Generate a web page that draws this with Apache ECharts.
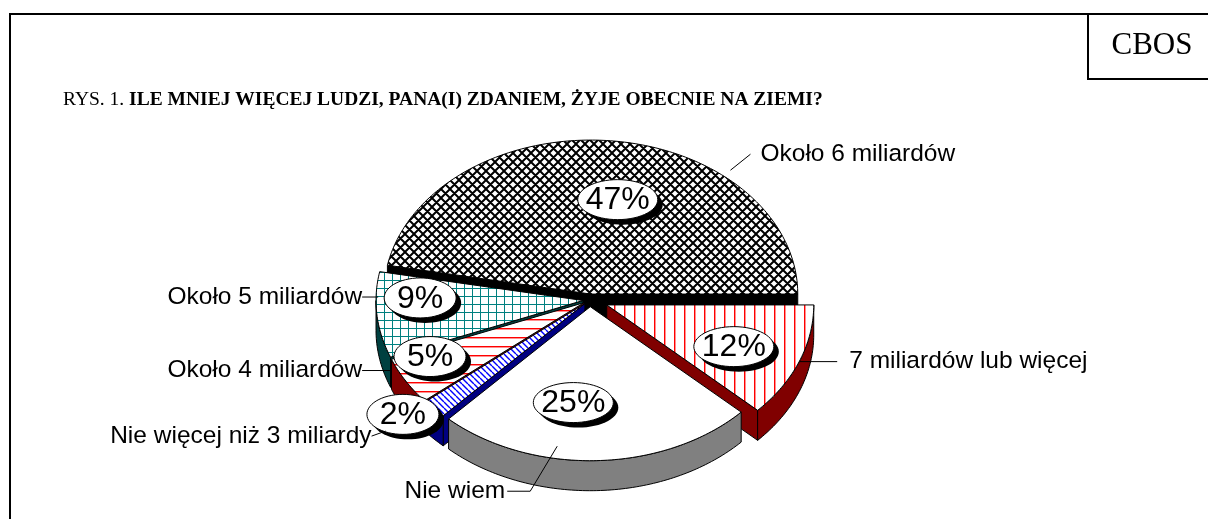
<!DOCTYPE html>
<html>
<head>
<meta charset="utf-8">
<script src="https://cdn.jsdelivr.net/npm/echarts@6/dist/echarts.min.js"></script>
<style>
  html, body { margin: 0; padding: 0; background: #fff; }
  #chart { width: 1208px; height: 519px; }
</style>
</head>
<body>
<div id="chart"></div>
<script>
// data, in clockwise order of the slices
const categories = ['Nie więcej niż 3 miliardy', 'Około 4 miliardów', 'Około 5 miliardów', 'Około 6 miliardów', '7 miliardów lub więcej', 'Nie wiem'];
const percents = [2, 5, 9, 47, 12, 25];

// pie geometry (pseudo 3d, tilted)
const cx = 590, cy = 300, rx = 207, ry = 154, depth = 30;
const firstSliceAngle = 133.2; // clockwise from 3 o'clock

// styles
const sideColors = ['#000080', '#800000', '#004040', '#000000', '#800000', '#808080'];
const explode = [7, 7, 7, 8, 18, 9];
// where the % bubble sits: [angle, radius fraction]
const valueLabelAt = [[140.7, 1.136], [154.8, 0.822], [181.2, 0.787], [282, 0.627], [23.8, 0.671], [97.5, 0.628]];
// category label: anchor on slice [angle, radius fraction], leader line steps, text side
const outerLabelAt = [
  { a: 139.3, r: 1.27, path: [[-14, 5]], align: 'right', gap: 0 },
  { a: 154.8, r: 1.035, path: [[-28, 0]], align: 'right', gap: 0 },
  { a: 181.3, r: 0.99, path: [[-16, 0]], align: 'right', gap: 0 },
  { a: 310, r: 1.05, path: [[20, -16]], align: 'left', gap: 10 },
  { a: 21.6, r: 1.0, path: [[38, 0]], align: 'left', gap: 12 },
  { a: 100, r: 0.92, path: [[-27, 45], [-50, 45]], align: 'right', gap: 2 }
];

function pattern(size, draw) {
  const c = document.createElement('canvas');
  c.width = c.height = size;
  const g = c.getContext('2d');
  g.fillStyle = '#fff';
  g.fillRect(0, 0, size, size);
  draw(g, size);
  return { image: c, repeat: 'repeat' };
}
const fills = [
  pattern(6, (g, s) => {
    g.strokeStyle = '#0000ff'; g.lineWidth = 1.4; g.beginPath();
    for (let k = -1; k <= 1; k++) { g.moveTo(k * s, 0); g.lineTo(k * s + s, s); }
    g.stroke();
  }),
  pattern(9, (g, s) => {
    g.fillStyle = '#ff0000'; g.fillRect(0, 4, s, 1);
    g.fillStyle = '#ff9090'; g.fillRect(0, 5, s, 1);
  }),
  pattern(8, (g, s) => {
    g.fillStyle = '#008080'; g.fillRect(0, 0, s, 1); g.fillRect(0, 0, 1, s);
  }),
  pattern(9, (g, s) => {
    g.strokeStyle = '#000'; g.lineWidth = 2; g.beginPath();
    for (let k = -1; k <= 1; k++) {
      g.moveTo(k * s, 0); g.lineTo(k * s + s, s);
      g.moveTo(k * s + s, 0); g.lineTo(k * s, s);
    }
    g.stroke();
  }),
  pattern(10, (g, s) => {
    g.fillStyle = '#ff0000'; g.fillRect(4, 0, 1, s);
    g.fillStyle = '#ff9090'; g.fillRect(5, 0, 1, s);
  }),
  '#ffffff'
];

const total = percents.reduce((s, v) => s + v, 0);
const startAngles = [];
let acc = 0;
percents.forEach(v => { startAngles.push(firstSliceAngle + acc / total * 360); acc += v; });
// back to front
const drawOrder = percents.map((v, i) => i).sort((p, q) => {
  const mp = startAngles[p] + percents[p] / total * 180, mq = startAngles[q] + percents[q] / total * 180;
  return Math.sin(mp * Math.PI / 180) - Math.sin(mq * Math.PI / 180);
});

function pt(ox, oy, a, r) {
  const t = a * Math.PI / 180;
  return [ox + rx * r * Math.cos(t), oy + ry * r * Math.sin(t)];
}
function arc(ox, oy, a0, a1) {
  const pts = [];
  const n = Math.max(2, Math.ceil(a1 - a0));
  for (let k = 0; k <= n; k++) pts.push(pt(ox, oy, a0 + (a1 - a0) * k / n, 1));
  return pts;
}
function ellipse(x, y, w, h) {
  const pts = [];
  for (let k = 0; k < 60; k++) {
    const t = k / 60 * Math.PI * 2;
    pts.push([x + w / 2 * Math.cos(t), y + h / 2 * Math.sin(t)]);
  }
  return pts;
}

function renderItem(params, api) {
  const i = params.dataIndex;
  const value = api.value(0);
  const a0 = startAngles[i];
  const a1 = a0 + value / total * 360;
  const mid = (a0 + a1) / 2 * Math.PI / 180;
  const ox = cx + explode[i] * Math.cos(mid);
  const oy = cy + explode[i] * Math.sin(mid) * ry / rx;
  const base = drawOrder.indexOf(i) * 10;
  const wall = sideColors[i];
  const children = [];

  const face = a => {
    const p = pt(ox, oy, a, 1);
    return {
      type: 'polygon', z2: base + 1,
      shape: { points: [[ox, oy], p, [p[0], p[1] + depth], [ox, oy + depth]] },
      style: { fill: wall, stroke: '#000', lineWidth: 1 }
    };
  };
  if (Math.cos(a0 * Math.PI / 180) < -1e-6) children.push(face(a0));
  if (Math.cos(a1 * Math.PI / 180) > 1e-6) children.push(face(a1));

  for (let k = -1; k <= 2; k++) {
    const lo = Math.max(a0, k * 360), hi = Math.min(a1, k * 360 + 180);
    if (lo < hi) {
      const top = arc(ox, oy, lo, hi);
      const bottom = top.map(p => [p[0], p[1] + depth]).reverse();
      children.push({
        type: 'polygon', z2: base + 2,
        shape: { points: top.concat(bottom) },
        style: { fill: wall, stroke: '#000', lineWidth: 1 }
      });
    }
  }

  children.push({
    type: 'polygon', z2: base + 3,
    shape: { points: [[ox, oy]].concat(arc(ox, oy, a0, a1)) },
    style: { fill: fills[i], stroke: '#000', lineWidth: 1 }
  });

  // % bubble
  const txt = value + '%';
  const lp = pt(ox, oy, valueLabelAt[i][0], valueLabelAt[i][1]);
  const w = 56 + 8 * txt.length, h = 40;
  children.push({ type: 'polygon', z2: 200 + i * 3, shape: { points: ellipse(lp[0] + 5, lp[1] + 5, w, h) }, style: { fill: '#000' } });
  children.push({ type: 'polygon', z2: 201 + i * 3, shape: { points: ellipse(lp[0], lp[1], w, h) }, style: { fill: '#fff', stroke: '#000', lineWidth: 1 } });
  children.push({
    type: 'text', z2: 202 + i * 3, x: lp[0], y: lp[1] + 1,
    style: { text: txt, fill: '#000', fontSize: 32, fontFamily: 'Liberation Sans, Arial', align: 'center', verticalAlign: 'middle' }
  });

  // category label with leader line
  const ol = outerLabelAt[i];
  const start = pt(ox, oy, ol.a, ol.r);
  const line = [start].concat(ol.path.map(d => [start[0] + d[0], start[1] + d[1]]));
  const end = line[line.length - 1];
  children.push({ type: 'polyline', z2: 230, shape: { points: line }, style: { stroke: '#000', lineWidth: 1, fill: null } });
  children.push({
    type: 'text', z2: 231,
    x: end[0] + (ol.align === 'left' ? ol.gap : -ol.gap), y: end[1],
    style: { text: categories[i], fill: '#000', fontSize: 24.5, fontFamily: 'Liberation Sans, Arial', align: ol.align, verticalAlign: 'middle' }
  });

  return { type: 'group', children: children };
}

const chart = echarts.init(document.getElementById('chart'));
chart.setOption({
  animation: false,
  backgroundColor: '#fff',
  title: {
    text: '{n|RYS. 1. }{b|ILE MNIEJ WIĘCEJ LUDZI, PANA(I) ZDANIEM, ŻYJE OBECNIE NA ZIEMI?}',
    left: 58,
    top: 85,
    textStyle: {
      rich: {
        n: { fontFamily: 'Liberation Serif', fontSize: 19.5, fontWeight: 'normal', color: '#000' },
        b: { fontFamily: 'Liberation Serif', fontSize: 19.5, fontWeight: 'bold', color: '#000' }
      }
    }
  },
  graphic: [
    { type: 'rect', shape: { x: 10, y: 14, width: 1210, height: 520 }, style: { fill: null, stroke: '#000', lineWidth: 2 } },
    { type: 'rect', shape: { x: 1088, y: 14, width: 130, height: 65 }, style: { fill: '#fff', stroke: '#000', lineWidth: 2 } },
    { type: 'text', x: 1152, y: 46, style: { text: 'CBOS', fill: '#000', fontSize: 31, fontFamily: 'Liberation Serif', align: 'center', verticalAlign: 'middle' } }
  ],
  series: [{
    type: 'custom',
    coordinateSystem: 'none',
    renderItem: renderItem,
    data: percents.map(v => [v])
  }]
});
</script>
</body>
</html>
